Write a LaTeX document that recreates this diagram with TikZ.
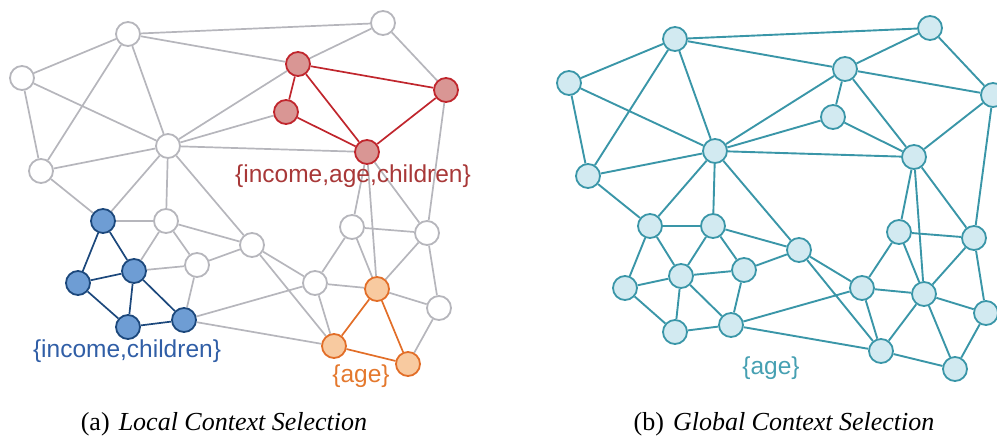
\documentclass[tikz,border=0pt]{standalone}
\usepackage{fontspec}
\setmainfont{Liberation Serif}
\newfontfamily\labelfont{Liberation Sans}
\usetikzlibrary{backgrounds}

\definecolor{edgegray}{RGB}{182,182,188}
\definecolor{redline}{RGB}{192,38,45}
\definecolor{redfill}{RGB}{217,150,148}
\definecolor{redtext}{RGB}{168,56,56}
\definecolor{blueline}{RGB}{28,72,124}
\definecolor{bluefill}{RGB}{110,157,212}
\definecolor{bluetext}{RGB}{48,94,166}
\definecolor{orangeline}{RGB}{226,110,40}
\definecolor{orangefill}{RGB}{248,202,160}
\definecolor{orangetext}{RGB}{228,120,45}
\definecolor{tealline}{RGB}{58,150,168}
\definecolor{tealfill}{RGB}{210,234,241}
\definecolor{tealtext}{RGB}{70,160,178}

\tikzset{
  vtx/.style={circle, minimum size=24bp, inner sep=0pt, line width=1.8bp},
  gnode/.style={vtx, draw=edgegray, fill=white},
  rnode/.style={vtx, draw=redline, fill=redfill},
  bnode/.style={vtx, draw=blueline, fill=bluefill},
  onode/.style={vtx, draw=orangeline, fill=orangefill},
  tnode/.style={vtx, draw=tealline, fill=tealfill},
  link/.style={line width=1.7bp},
  gedge/.style={link, draw=edgegray},
  redge/.style={link, draw=redline},
  bedge/.style={link, draw=blueline},
  oedge/.style={link, draw=orangeline},
  tedge/.style={link, draw=tealline, line width=1.9bp},
  setlabel/.style={font=\labelfont\fontsize{24.5bp}{29bp}\selectfont, anchor=base, inner sep=0pt},
  subcap/.style={font=\fontsize{26bp}{31bp}\selectfont, anchor=base, inner sep=0pt}
}

% The context graph: vertices first, links behind them on the background layer
\newcommand\contextgraph{%
  \node[gnode] (A)  at (128,34)  {};
  \node[gnode] (B)  at (22,78)   {};
  \node[gnode] (C)  at (168,146) {};
  \node[gnode] (D)  at (41,171)  {};
  \node[gnode] (G1) at (383,23)  {};
  \node[rnode] (R1) at (298,64)  {};
  \node[rnode] (R2) at (286,112) {};
  \node[rnode] (R3) at (446,90)  {};
  \node[rnode] (R4) at (367,152) {};
  \node[bnode] (B1) at (103,221) {};
  \node[gnode] (G2) at (166,221) {};
  \node[gnode] (G3) at (197,265) {};
  \node[bnode] (B2) at (134,271) {};
  \node[bnode] (B3) at (78,283)  {};
  \node[bnode] (B4) at (128,327) {};
  \node[bnode] (B5) at (184,320) {};
  \node[gnode] (N5) at (252,245) {};
  \node[gnode] (N1) at (352,227) {};
  \node[gnode] (N2) at (427,233) {};
  \node[gnode] (N4) at (315,283) {};
  \node[onode] (O1) at (377,289) {};
  \node[gnode] (N6) at (439,308) {};
  \node[onode] (O2) at (334,346) {};
  \node[onode] (O3) at (408,364) {};
  \begin{pgfonlayer}{background}
    \draw[gedge] (A) -- (B) (A) -- (C) (A) -- (D) (A) -- (G1) (A) -- (R1)
      (B) -- (C) (B) -- (D)
      (C) -- (D) (C) -- (R1) (C) -- (R2) (C) -- (R4) (C) -- (B1) (C) -- (G2) (C) -- (N5)
      (D) -- (B1)
      (G1) -- (R1) (G1) -- (R3)
      (R3) -- (N2) (R4) -- (N1) (R4) -- (O1) (R4) -- (N2)
      (B1) -- (G2) (G2) -- (B2) (G2) -- (G3) (G2) -- (N5)
      (G3) -- (B2) (G3) -- (N5) (G3) -- (B5)
      (B5) -- (N4) (B5) -- (O2)
      (N5) -- (N4) (N5) -- (O2)
      (N1) -- (N2) (N1) -- (O1) (N1) -- (N4)
      (N2) -- (O1) (N2) -- (N6)
      (N4) -- (O1) (N4) -- (O2)
      (O1) -- (N6) (N6) -- (O3);
    \draw[redge] (R1) -- (R2) (R1) -- (R3) (R1) -- (R4) (R2) -- (R4) (R3) -- (R4);
    \draw[bedge] (B1) -- (B3) (B1) -- (B2) (B2) -- (B3) (B2) -- (B4) (B2) -- (B5)
      (B3) -- (B4) (B4) -- (B5);
    \draw[oedge] (O1) -- (O2) (O1) -- (O3) (O2) -- (O3);
  \end{pgfonlayer}
}

\begin{document}
\begin{tikzpicture}[x=1bp, y=-1bp]
  \useasboundingbox (0,0) rectangle (997,437);
  \clip (0,0) rectangle (997,437);

  % (a) local context: highlighted neighbourhoods
  \begin{scope}[name prefix=l-]
    \contextgraph
  \end{scope}
  \node[setlabel, text=redtext]    (lab-r) at (353,183) {\{income,age,children\}};
  \node[setlabel, text=bluetext]   (lab-b) at (127,358) {\{income,children\}};
  \node[setlabel, text=orangetext] (lab-o) at (361,383) {\{age\}};

  % (b) global context: the whole graph in one colour
  \begin{scope}[shift={(547,5)}, name prefix=g-,
      gnode/.style={tnode}, rnode/.style={tnode}, bnode/.style={tnode}, onode/.style={tnode},
      gedge/.style={tedge}, redge/.style={tedge}, bedge/.style={tedge}, oedge/.style={tedge}]
    \contextgraph
  \end{scope}
  \node[setlabel, text=tealtext] (lab-t) at (771,375) {\{age\}};

  % sub-captions
  \node[subcap] (cap-a) at (224,430) {(a)\hspace{0.35em}\textit{Local Context Selection}};
  \node[subcap] (cap-b) at (784,430) {(b)\hspace{0.35em}\textit{Global Context Selection}};
\end{tikzpicture}
\end{document}
